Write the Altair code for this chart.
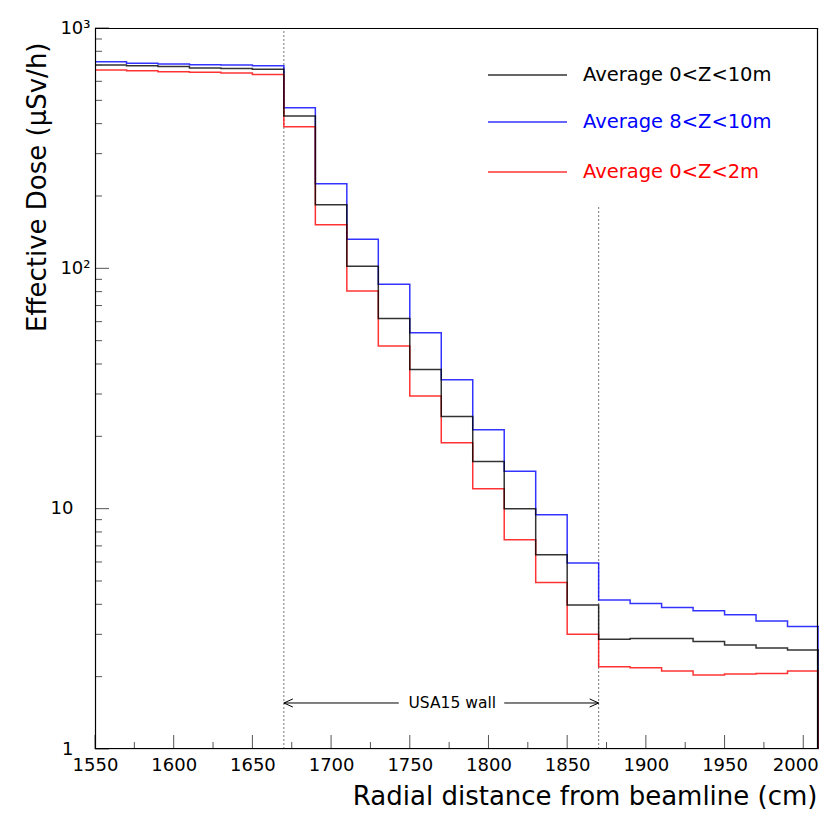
import altair as alt
import pandas as pd

# ---------------- data ----------------
bin_edges = [1550, 1570, 1590, 1610, 1630, 1650, 1670, 1690, 1710, 1730, 1750, 1770,
             1790, 1810, 1830, 1850, 1870, 1890, 1910, 1930, 1950, 1970, 1990, 2010]

avg_0_10 = [701, 697, 692, 681, 679, 673, 430, 184, 102, 61.9, 37.9, 24.2,
            15.7, 10.0, 6.43, 3.97, 2.86, 2.88, 2.88, 2.80, 2.71, 2.63, 2.58]
avg_8_10 = [724, 713, 708, 703, 701, 697, 466, 225, 132, 85.8, 54.0, 34.4,
            21.3, 14.3, 9.44, 5.94, 4.17, 4.03, 3.88, 3.76, 3.62, 3.41, 3.23]
avg_0_2 = [668, 664, 658, 654, 649, 641, 388, 152, 80.4, 47.5, 29.4, 18.8,
           12.1, 7.43, 4.93, 3.00, 2.20, 2.18, 2.11, 2.03, 2.05, 2.06, 2.11]

series_names = ["Average 0<Z<10m", "Average 8<Z<10m", "Average 0<Z<2m"]
series_values = [avg_0_10, avg_8_10, avg_0_2]
series_colors = ["#000000", "#0000ff", "#ff0000"]
draw_order = [1, 2, 0]  # blue, red, black on top

y_floor = 1  # histogram baseline (bottom of log axis)

x_domain = [1550, 2010]
y_domain = [1, 1000]
x_label_values = [1550, 1600, 1650, 1700, 1750, 1800, 1850, 1900, 1950, 2000]
x_minor_ticks = [1575, 1625, 1675, 1725, 1775, 1825, 1875, 1925, 1975]
y_label_values = [1, 10, 100, 1000]
y_minor_ticks = [2, 3, 4, 5, 6, 7, 8, 9, 20, 30, 40, 50, 60, 70, 80, 90,
                 200, 300, 400, 500, 600, 700, 800, 900]

wall_edges = [1670, 1870]
wall_line_tops = [1000, 180]
arrow_y = 1.554
arrow_gap = [1743, 1810]
wall_label = "USA15 wall"
wall_label_x = 1777

W, H = 724, 721
FONT = "DejaVu Sans"

xs = alt.Scale(domain=x_domain, nice=False, zero=False)
ys = alt.Scale(type="log", domain=y_domain, nice=False)

# ---------------- step lines ----------------
layers = []
for idx in draw_order:
    vals = series_values[idx]
    rows = [{"x": bin_edges[0], "y": y_floor, "o": 0}]
    for i, v in enumerate(vals):
        rows.append({"x": bin_edges[i], "y": v, "o": i + 1})
    rows.append({"x": bin_edges[-1], "y": vals[-1], "o": len(vals) + 1})
    rows.append({"x": bin_edges[-1], "y": y_floor, "o": len(vals) + 2})
    df = pd.DataFrame(rows)
    layers.append(
        alt.Chart(df).mark_line(interpolate="step-after", color=series_colors[idx],
                                strokeWidth=1.5, opacity=0.8, clip=True)
        .encode(x=alt.X("x:Q", scale=xs), y=alt.Y("y:Q", scale=ys), order="o:Q")
    )

# ---------------- dotted wall lines ----------------
wall_df = pd.DataFrame({"x": wall_edges, "y0": [y_floor, y_floor], "y1": wall_line_tops})
wall_lines = alt.Chart(wall_df).mark_rule(color="#777777", strokeDash=[2, 2], strokeWidth=1).encode(
    x=alt.X("x:Q", scale=xs), y=alt.Y("y0:Q", scale=ys), y2="y1:Q")

# ---------------- arrow ----------------
arrow_df = pd.DataFrame({"x": [wall_edges[0], arrow_gap[1]], "x2": [arrow_gap[0], wall_edges[1]],
                         "y": [arrow_y, arrow_y]})
arrow_lines = alt.Chart(arrow_df).mark_rule(color="black", strokeWidth=1).encode(
    x=alt.X("x:Q", scale=xs), x2="x2:Q", y=alt.Y("y:Q", scale=ys))
left_head = alt.Chart(pd.DataFrame({"x": [wall_edges[0]], "y": [arrow_y]})).mark_point(
    shape="M0,0L2,-0.9M0,0L2,0.9", size=81, filled=False, color="black", strokeWidth=1, opacity=1
).encode(x=alt.X("x:Q", scale=xs), y=alt.Y("y:Q", scale=ys))
right_head = alt.Chart(pd.DataFrame({"x": [wall_edges[1]], "y": [arrow_y]})).mark_point(
    shape="M0,0L-2,-0.9M0,0L-2,0.9", size=81, filled=False, color="black", strokeWidth=1, opacity=1
).encode(x=alt.X("x:Q", scale=xs), y=alt.Y("y:Q", scale=ys))
wall_text = alt.Chart(pd.DataFrame({"x": [wall_label_x], "y": [arrow_y], "t": [wall_label]})).mark_text(
    font=FONT, fontSize=15.5, color="black", baseline="middle", align="center"
).encode(x=alt.X("x:Q", scale=xs), y=alt.Y("y:Q", scale=ys), text="t:N")

# ---------------- ticks (inside) ----------------
TICK_C = "#555555"
x_major = alt.Chart(pd.DataFrame({"x": x_label_values})).mark_rule(color=TICK_C, strokeWidth=1).encode(
    x=alt.X("x:Q", scale=xs), y=alt.value(H), y2=alt.value(H - 14))
x_minor = alt.Chart(pd.DataFrame({"x": x_minor_ticks})).mark_rule(color=TICK_C, strokeWidth=1).encode(
    x=alt.X("x:Q", scale=xs), y=alt.value(H), y2=alt.value(H - 7))
y_major = alt.Chart(pd.DataFrame({"y": y_label_values})).mark_rule(color=TICK_C, strokeWidth=1).encode(
    y=alt.Y("y:Q", scale=ys), x=alt.value(0), x2=alt.value(14))
y_minor = alt.Chart(pd.DataFrame({"y": y_minor_ticks})).mark_rule(color=TICK_C, strokeWidth=1).encode(
    y=alt.Y("y:Q", scale=ys), x=alt.value(0), x2=alt.value(7))

# ---------------- frame ----------------
frame = alt.Chart(pd.DataFrame({"a": [0]})).mark_rect(
    fillOpacity=0, stroke="black", strokeWidth=1.2, strokeOpacity=1).encode(
    x=alt.value(0.5), x2=alt.value(W - 1.5), y=alt.value(0.5), y2=alt.value(H - 0.5))

# ---------------- axes (labels + titles) ----------------
axes = alt.Chart(pd.DataFrame({"x": [x_domain[0]], "y": [y_domain[0]]})).mark_point(opacity=0).encode(
    x=alt.X("x:Q", scale=xs, axis=alt.Axis(
        values=x_label_values, ticks=False, domain=False, grid=False, format="d",
        labelFlush=False, labelOverlap=False,
        labelOffset={"condition": {"test": "datum.value == 2000", "value": -8}, "value": 0},
        labelFont=FONT, labelFontSize=18, labelColor="black", labelPadding=7,
        title="Radial distance from beamline (cm)", titleFont=FONT, titleFontSize=26,
        titleFontWeight="normal", titleColor="black", titleAlign="right", titleAnchor="end",
        titleX=W - 2, titleY=55, titleBaseline="alphabetic")),
    y=alt.Y("y:Q", scale=ys, axis=alt.Axis(
        values=y_label_values, ticks=False, domain=False, grid=False,
        labelFlush=False, labelOverlap=False,
        labelExpr="datum.value == 1000 ? '10³' : datum.value == 100 ? '10²' : datum.value == 10 ? '10' : '1'",
        labelFont=FONT, labelFontSize=18, labelColor="black",
        labelPadding={"condition": {"test": "datum.value >= 100", "value": 5}, "value": 22},
        title="Effective Dose (μSv/h)", titleFont=FONT, titleFontSize=26,
        titleFontWeight="normal", titleColor="black", titleAngle=270, titleAlign="right",
        titleBaseline="middle", titleX=-58, titleY=14)),
)

# ---------------- legend (manual) ----------------
leg_y = [47, 94, 144]
leg_layers = []
for i in range(3):
    leg_layers.append(alt.Chart(pd.DataFrame({"a": [0]})).mark_rule(
        color=series_colors[i], strokeWidth=1.5, opacity=0.8).encode(
        x=alt.value(393), x2=alt.value(472), y=alt.value(leg_y[i])))
    leg_layers.append(alt.Chart(pd.DataFrame({"t": [series_names[i]]})).mark_text(
        font=FONT, fontSize=19.5, color=series_colors[i], align="left", baseline="middle").encode(
        x=alt.value(488), y=alt.value(leg_y[i]), text="t:N"))

chart = alt.layer(
    axes, wall_lines, *layers, arrow_lines, left_head, right_head, wall_text,
    x_major, x_minor, y_major, y_minor, frame, *leg_layers
).properties(
    width=W, height=H,
    autosize=alt.AutoSizeParams(type="none"),
    padding={"left": 87, "top": 20, "right": 0, "bottom": 62},
).configure_view(stroke=None).configure(background="white")

chart.save("out.html", embed_options={"renderer": "svg", "actions": False})
